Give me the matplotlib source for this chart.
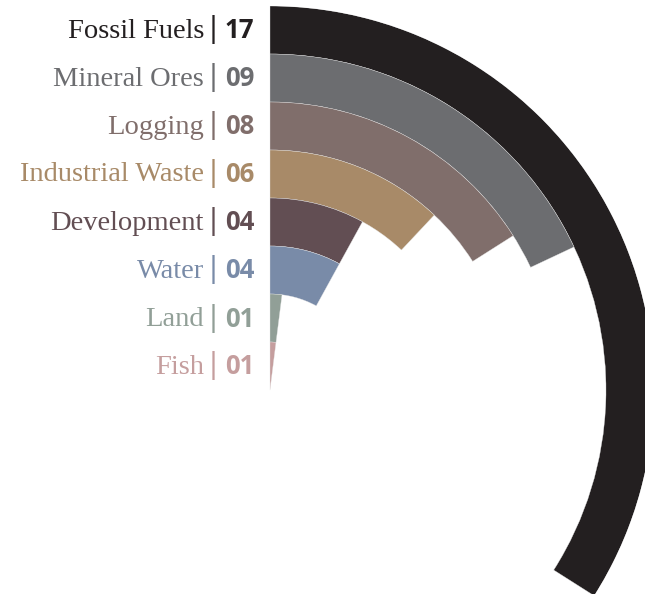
import numpy as np
import matplotlib
matplotlib.use("Agg")
import matplotlib.pyplot as plt

categories = ["Fossil Fuels", "Mineral Ores", "Logging", "Industrial Waste",
              "Development", "Water", "Land", "Fish"]
values = [17, 9, 8, 6, 4, 4, 1, 1]
value_labels = ["17", "09", "08", "06", "04", "04", "01", "01"]
colors = ["#231f20", "#6c6d70", "#806e6b", "#a88a68",
          "#624e53", "#798ba8", "#919f97", "#c59e9e"]

FULL_CIRCLE = 50          # value that would close a full ring
RING = 48                 # ring thickness in pixels
W, H = 645, 594
CX, CY = 270, 390         # centre of the rings, pixels from top-left
RMAX = RING * len(categories)

fig = plt.figure(figsize=(W / 100, H / 100), dpi=100)
fig.patch.set_facecolor("white")

ax = fig.add_axes([(CX - RMAX) / W, (H - CY - RMAX) / H,
                   2 * RMAX / W, 2 * RMAX / H], projection="polar")
ax.set_theta_zero_location("N")
ax.set_theta_direction(-1)
ax.set_ylim(0, RMAX)
ax.axis("off")

n = len(categories)
for i, (v, c) in enumerate(zip(values, colors)):
    inner = RING * (n - 1 - i)
    width = v / FULL_CIRCLE * 2 * np.pi
    ax.bar(0, RING, width=width, bottom=inner, align="edge",
           color=c, edgecolor="#e6e6e6", linewidth=0.25)

# Labels: "Name | NN" to the left of each ring
serif = ["Liberation Serif", "DejaVu Serif"]
for i, (name, lab, c) in enumerate(zip(categories, value_labels, colors)):
    yc = 6 + RING * i + RING / 2 + 1
    yf = 1 - yc / H
    fig.text(204 / W, yf, name, ha="right", va="center", color=c,
             fontsize=20.5, family=serif)
    fig.text(213.5 / W, yf + 1 / H, "|", ha="center", va="center", color=c,
             fontsize=23, family=serif, fontweight="bold")
    fig.text(225 / W, yf, lab, ha="left", va="center", color=c,
             fontsize=18.5, family="Open Sans", fontweight="bold")

fig.savefig("out.png", dpi=100, facecolor="white")
